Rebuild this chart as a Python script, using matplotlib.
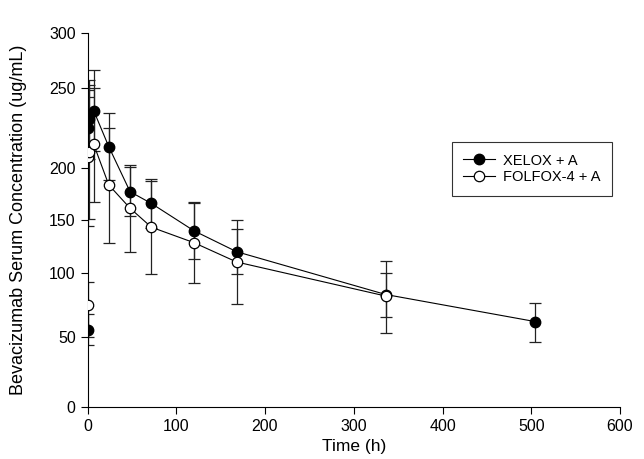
import numpy as np
import matplotlib
matplotlib.use("Agg")
import matplotlib.pyplot as plt

plt.rcParams['font.family'] = ['Liberation Sans', 'DejaVu Sans']

# sampling times (h)
t_xelox = [0, 0.5, 1.5, 7, 24, 48, 72, 120, 168, 336, 504]
t_folfox = [0, 0.5, 1.5, 7, 24, 48, 72, 120, 168, 336]

# mean concentration and error bar ends (ug/mL)
xelox = [55.5, 225.2, 230.4, 235.8, 213.3, 177.2, 165.9, 139.8, 120.1, 83.2, 62.1]
xelox_hi = [67.7, 244.6, 257.3, 266.4, 234.2, 200.4, 189.4, 166.1, 141.5, 111.6, 76.8]
xelox_lo = [44.3, 205.8, 205.9, 210.6, 188.5, 153.8, 142.5, 113.5, 99.2, 53.1, 46.6]

folfox = [75.0, 207.1, 209.8, 214.8, 183.7, 161.3, 143.2, 128.6, 110.4, 82.0]
folfox_hi = [93.0, 248.8, 252.7, 249.8, 224.8, 201.9, 187.8, 167.3, 150.0, 100.0]
folfox_lo = [49.8, 144.6, 150.7, 167.6, 128.6, 119.5, 99.2, 92.0, 75.5, 65.9]

yticks = [0, 50, 100, 150, 200, 250, 300]
xticks = [0, 100, 200, 300, 400, 500, 600]

# the printed y axis is not evenly spaced: tick heights in pixels above the x axis
tick_px = [0, 70, 134, 187, 239, 319, 374]


def fwd(v):
    return np.interp(v, yticks, tick_px)


def inv(h):
    return np.interp(h, tick_px, yticks)


fig = plt.figure(figsize=(6.44, 4.59), dpi=100)
ax = fig.add_axes([87.5 / 644, 1 - 407 / 459, 532.5 / 644, 374 / 459])
ax.set_yscale('function', functions=(fwd, inv))

xe = np.array(xelox)
fe = np.array(folfox)
ax.errorbar(t_xelox, xe, yerr=[xe - np.array(xelox_lo), np.array(xelox_hi) - xe],
            fmt='none', ecolor='#222222', elinewidth=0.9, capsize=4.5, capthick=0.9, zorder=1)
ax.errorbar(t_folfox, fe, yerr=[fe - np.array(folfox_lo), np.array(folfox_hi) - fe],
            fmt='none', ecolor='#222222', elinewidth=0.9, capsize=4.5, capthick=0.9, zorder=1)

ax.plot(t_xelox, xelox, '-o', color='black', lw=0.8, ms=7.5, mfc='black', mec='black',
        label='XELOX + A', zorder=2)
ax.plot(t_folfox, folfox, '-o', color='black', lw=0.8, ms=7.5, mfc='white', mec='black',
        mew=0.9, label='FOLFOX-4 + A', zorder=3)

ax.set_xlim(0, 600)
ax.set_ylim(0, 300)
ax.set_xticks(xticks)
ax.set_yticks(yticks)
ax.tick_params(direction='out', length=5, width=0.8, labelsize=11.5)
ax.spines['top'].set_visible(False)
ax.spines['right'].set_visible(False)
ax.spines['left'].set_linewidth(0.8)
ax.spines['bottom'].set_linewidth(0.8)

ax.set_xlabel('Time (h)', fontsize=12.5)
ax.set_ylabel('Bevacizumab Serum Concentration (ug/mL)', fontsize=13)
ax.xaxis.set_label_coords(0.5, -0.085)
ax.yaxis.set_label_coords(-0.113, 0.5)

leg = ax.legend(loc='upper left', bbox_to_anchor=(0.684, 0.709), borderaxespad=0,
                fontsize=10.5, frameon=True, fancybox=False, edgecolor='black',
                handlelength=2.2, borderpad=0.8, labelspacing=0.2, handletextpad=0.5)
leg.get_frame().set_linewidth(0.8)

fig.savefig('out.png', dpi=100)
